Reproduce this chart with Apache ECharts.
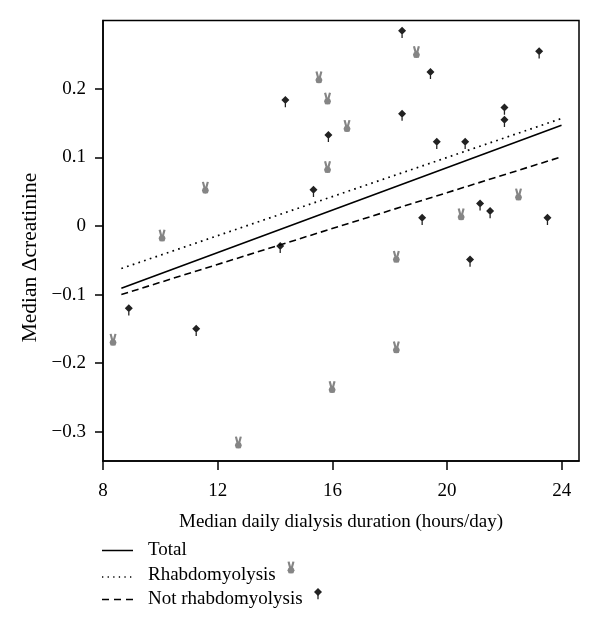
<!DOCTYPE html>
<html>
<head>
<meta charset="utf-8">
<script src="https://cdn.jsdelivr.net/npm/echarts@6/dist/echarts.min.js"></script>
<style>
  html, body { margin: 0; padding: 0; background: #fff; }
  #chart { width: 600px; height: 631px; }
</style>
</head>
<body>
<div id="chart"></div>
<script>
// points: hours/day vs median delta creatinine
var rhabdoX = [8.35, 10.06, 11.57, 12.72, 15.53, 15.83, 15.83, 15.99, 16.51, 18.23, 18.23, 18.93, 20.49, 22.49];
var rhabdoY = [-0.166, -0.014, 0.056, -0.316, 0.217, 0.186, 0.086, -0.235, 0.146, -0.045, -0.177, 0.254, 0.017, 0.046];

var notRhabdoX = [8.90, 11.25, 14.18, 14.36, 15.34, 15.86, 18.43, 18.43, 19.13, 19.42, 19.64, 20.63, 20.80, 21.15, 21.50, 22.0, 22.0, 23.21, 23.50];
var notRhabdoY = [-0.120, -0.150, -0.029, 0.184, 0.053, 0.133, 0.285, 0.164, 0.012, 0.225, 0.123, 0.123, -0.049, 0.033, 0.022, 0.173, 0.155, 0.255, 0.012];

// fitted lines, end points only
var fitX = [8.64, 23.99];
var totalFit = [-0.091, 0.147];
var rhabdoFit = [-0.062, 0.157];
var notRhabdoFit = [-0.100, 0.101];

var xTicks = [8, 12, 16, 20, 24];
var yTicks = [-0.3, -0.2, -0.1, 0, 0.1, 0.2];

var FONT = '"Liberation Serif", "DejaVu Serif", serif';
var FSIZE = 19;

// marker shapes, as polygons in a 10 x 16.5 (hand) and 10 x 14 (pin) box
var handParts = [
  [[0, 0.5], [3, 0], [5.5, 9], [2.5, 9.5]],
  [[7, 0], [10, 0.5], [7.5, 9.5], [4.5, 9]],
  [[1.5, 8.5], [8.5, 8.5], [10, 12], [8.5, 16], [5, 16.5], [1.5, 16], [0, 12]]
];
var pinParts = [
  [[5, 0], [10, 5], [5, 10], [0, 5]],
  [[4.2, 8], [5.8, 8], [5.8, 14], [4.2, 14]]
];

function toPath(parts) {
  return 'path://' + parts.map(function (p) {
    return 'M' + p.map(function (q) { return q[0] + ' ' + q[1]; }).join(' L') + ' Z';
  }).join(' ');
}

// legend marker drawn as graphic polygons
function markerGraphic(parts, x, y, sx, sy, color) {
  return parts.map(function (p) {
    return {
      type: 'polygon',
      shape: { points: p.map(function (q) { return [x + q[0] * sx, y + q[1] * sy]; }) },
      style: { fill: color }
    };
  });
}

function pairs(xs, ys) {
  return xs.map(function (x, i) { return [x, ys[i]]; });
}

var myChart = echarts.init(document.getElementById('chart'));

var legendGraphics = [
  { type: 'line', shape: { x1: 102, y1: 550.5, x2: 133, y2: 550.5 }, style: { stroke: '#000', lineWidth: 1.5 } },
  { type: 'line', shape: { x1: 102, y1: 577, x2: 134, y2: 577 }, style: { stroke: '#000', lineWidth: 1.3, lineDash: [1.3, 4.3] } },
  { type: 'line', shape: { x1: 102, y1: 599.5, x2: 134, y2: 599.5 }, style: { stroke: '#000', lineWidth: 1.5, lineDash: [7, 5] } },
  {
    type: 'text', x: 148, y: 550,
    style: { text: 'Total', font: FSIZE + 'px ' + FONT, fill: '#000', verticalAlign: 'middle', textVerticalAlign: 'middle' }
  },
  {
    type: 'text', x: 148, y: 575,
    style: { text: 'Rhabdomyolysis', font: FSIZE + 'px ' + FONT, fill: '#000', verticalAlign: 'middle', textVerticalAlign: 'middle' }
  },
  {
    type: 'text', x: 148, y: 599,
    style: { text: 'Not rhabdomyolysis', font: FSIZE + 'px ' + FONT, fill: '#000', verticalAlign: 'middle', textVerticalAlign: 'middle' }
  }
].concat(markerGraphic(handParts, 287.5, 561.5, 0.7, 0.73, '#858585'))
 .concat(markerGraphic(pinParts, 314, 588, 0.8, 0.8, '#222'));

myChart.setOption({
  animation: false,
  backgroundColor: '#fff',
  grid: {
    left: 103, right: 21, top: 20.5, bottom: 170,
    show: true, borderColor: '#000', borderWidth: 1.5, backgroundColor: 'transparent'
  },
  xAxis: {
    type: 'value',
    min: 8, max: 24.6,
    splitLine: { show: false },
    axisLine: { show: true, onZero: false, lineStyle: { color: '#000', width: 1.5 } },
    axisTick: { show: true, length: 9, customValues: xTicks, lineStyle: { color: '#000', width: 1.5 } },
    axisLabel: { customValues: xTicks, margin: 21, color: '#000', fontSize: FSIZE, fontFamily: FONT },
    name: 'Median daily dialysis duration (hours/day)',
    nameLocation: 'middle',
    nameGap: 52,
    nameTextStyle: { color: '#000', fontSize: FSIZE, fontFamily: FONT }
  },
  yAxis: {
    type: 'value',
    min: -0.343, max: 0.30,
    splitLine: { show: false },
    axisLine: { show: true, onZero: false, lineStyle: { color: '#000', width: 1.5 } },
    axisTick: { show: true, length: 8, customValues: yTicks, lineStyle: { color: '#000', width: 1.5 } },
    axisLabel: {
      customValues: yTicks, margin: 17, color: '#000', fontSize: FSIZE, fontFamily: FONT,
      formatter: function (v) {
        var s = (Math.round(v * 10) / 10).toString();
        return s.replace('-', '\u2212');
      }
    }
  },
  series: [
    {
      name: 'Total', type: 'line', data: pairs(fitX, totalFit),
      symbol: 'none', lineStyle: { color: '#000', width: 1.6 }
    },
    {
      name: 'Rhabdomyolysis fit', type: 'line', data: pairs(fitX, rhabdoFit),
      symbol: 'none', lineStyle: { color: '#000', width: 1.7, type: [1.7, 4.3] }
    },
    {
      name: 'Not rhabdomyolysis fit', type: 'line', data: pairs(fitX, notRhabdoFit),
      symbol: 'none', lineStyle: { color: '#000', width: 1.6, type: [7, 4] }
    },
    {
      name: 'Rhabdomyolysis', type: 'scatter', data: pairs(rhabdoX, rhabdoY),
      symbol: toPath(handParts), symbolSize: [7, 12],
      itemStyle: { color: '#858585', opacity: 1 }
    },
    {
      name: 'Not rhabdomyolysis', type: 'scatter', data: pairs(notRhabdoX, notRhabdoY),
      symbol: toPath(pinParts), symbolSize: [8, 11.2], symbolOffset: [0, 1.6],
      itemStyle: { color: '#222', opacity: 1 }
    }
  ],
  graphic: [
    {
      type: 'text', x: 30.5, y: 257.5, rotation: Math.PI / 2,
      style: { text: 'Median \u0394creatinine', font: '21.5px ' + FONT, fill: '#000',
        align: 'center', verticalAlign: 'middle', textAlign: 'center', textVerticalAlign: 'middle' }
    }
  ].concat(legendGraphics)
});
</script>
</body>
</html>
